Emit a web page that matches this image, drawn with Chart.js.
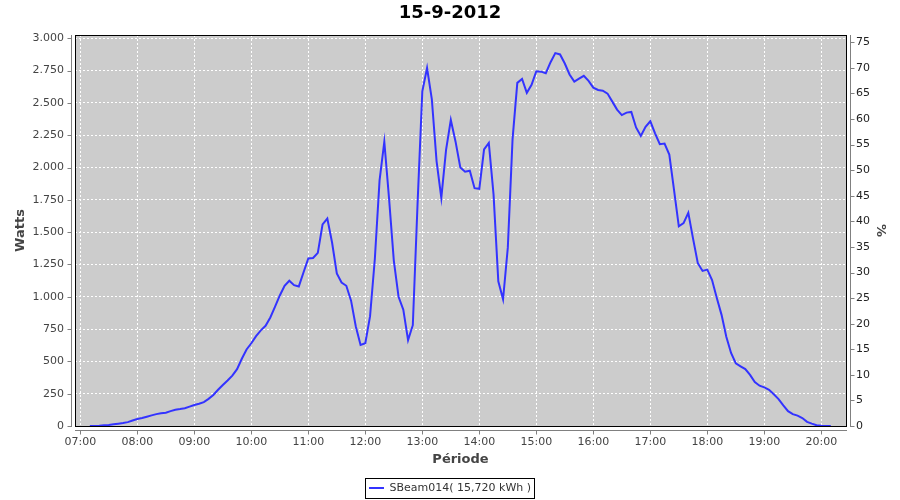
<!DOCTYPE html>
<html>
<head>
<meta charset="utf-8">
<script src="https://cdn.jsdelivr.net/npm/chart.js@4/dist/chart.umd.min.js"></script>
<style>
    html, body { margin: 0; padding: 0; background: #fff; }
    .chart-container { width: 900px; height: 500px; }
</style>
</head>
<body>
<div class="chart-container"><canvas id="powerChart"></canvas></div>
<script>
const chartTitle = '15-9-2012';
const seriesLabel = 'SBeam014( 15,720 kWh )';

// sample times, every 5 minutes
const times = [
    '07:10', '07:15', '07:20', '07:25', '07:30', '07:35', '07:40', '07:45', '07:50', '07:55',
    '08:00', '08:05', '08:10', '08:15', '08:20', '08:25', '08:30', '08:35', '08:40', '08:45', '08:50', '08:55',
    '09:00', '09:05', '09:10', '09:15', '09:20', '09:25', '09:30', '09:35', '09:40', '09:45', '09:50', '09:55',
    '10:00', '10:05', '10:10', '10:15', '10:20', '10:25', '10:30', '10:35', '10:40', '10:45', '10:50', '10:55',
    '11:00', '11:05', '11:10', '11:15', '11:20', '11:25', '11:30', '11:35', '11:40', '11:45', '11:50', '11:55',
    '12:00', '12:05', '12:10', '12:15', '12:20', '12:25', '12:30', '12:35', '12:40', '12:45', '12:50', '12:55',
    '13:00', '13:05', '13:10', '13:15', '13:20', '13:25', '13:30', '13:35', '13:40', '13:45', '13:50', '13:55',
    '14:00', '14:05', '14:10', '14:15', '14:20', '14:25', '14:30', '14:35', '14:40', '14:45', '14:50', '14:55',
    '15:00', '15:05', '15:10', '15:15', '15:20', '15:25', '15:30', '15:35', '15:40', '15:45', '15:50', '15:55',
    '16:00', '16:05', '16:10', '16:15', '16:20', '16:25', '16:30', '16:35', '16:40', '16:45', '16:50', '16:55',
    '17:00', '17:05', '17:10', '17:15', '17:20', '17:25', '17:30', '17:35', '17:40', '17:45', '17:50', '17:55',
    '18:00', '18:05', '18:10', '18:15', '18:20', '18:25', '18:30', '18:35', '18:40', '18:45', '18:50', '18:55',
    '19:00', '19:05', '19:10', '19:15', '19:20', '19:25', '19:30', '19:35', '19:40', '19:45', '19:50', '19:55',
    '20:00', '20:05', '20:10'
];

// power in watts
const watts = [
    0, 0, 2, 5, 8, 13, 18, 23, 30, 42,
    54, 62, 72, 82, 92, 98, 103, 115, 126, 131, 137, 150,
    162, 172, 185, 210, 240, 280, 317, 352, 390, 440, 520, 592,
    640, 695, 740, 775, 840, 923, 1010, 1085, 1124, 1090, 1080, 1190,
    1297, 1300, 1340, 1560, 1605, 1420, 1180, 1110, 1085, 970, 770, 627,
    640, 850, 1290, 1900, 2200, 1760, 1280, 1000, 900, 665, 780, 1720,
    2590, 2770, 2530, 2050, 1765, 2136, 2368, 2200, 2000, 1968, 1975, 1840,
    1835, 2140, 2190, 1790, 1120, 980, 1380, 2220, 2655, 2685, 2578, 2640,
    2745, 2742, 2730, 2815, 2885, 2875, 2805, 2720, 2665, 2688, 2710, 2670,
    2618, 2600, 2595, 2572, 2510, 2448, 2406, 2425, 2430, 2310, 2244, 2315,
    2358, 2265, 2180, 2185, 2100, 1826, 1545, 1570, 1650, 1450, 1260, 1200,
    1210, 1130, 990, 860, 690, 565, 485, 462, 440, 395, 340, 312,
    299, 280, 245, 208, 160, 115, 92, 80, 62, 32, 18, 6,
    2, 0, 0
];

// axis ticks
const xTickLabels = [
    '07:00', '08:00', '09:00', '10:00', '11:00', '12:00', '13:00',
    '14:00', '15:00', '16:00', '17:00', '18:00', '19:00', '20:00'
];
const wattTicks = [0, 250, 500, 750, 1000, 1250, 1500, 1750, 2000, 2250, 2500, 2750, 3000];
const wattTickLabels = ['0', '250', '500', '750', '1.000', '1.250', '1.500', '1.750',
    '2.000', '2.250', '2.500', '2.750', '3.000'];
const percentTicks = [0, 5, 10, 15, 20, 25, 30, 35, 40, 45, 50, 55, 60, 65, 70, 75];

const lineColor = '#3333ff';
const axisGray = '#808080';
const textGray = '#444444';

Chart.defaults.font.family = "'DejaVu Sans', sans-serif";
Chart.defaults.font.size = 11;
Chart.defaults.color = textGray;

// minutes after 07:00
function toMinutes(t) {
    const parts = t.split(':');
    return (parseInt(parts[0], 10) - 7) * 60 + parseInt(parts[1], 10);
}

const points = times.map((t, i) => ({ x: toMinutes(t), y: watts[i] }));
const hourTicks = xTickLabels.map(toMinutes);

// grey plot background, black outline, offset axis lines like the original
const plotFrame = {
    id: 'plotFrame',
    beforeDraw(chart) {
        const { ctx, chartArea: a } = chart;
        ctx.save();
        ctx.fillStyle = '#cccccc';
        ctx.fillRect(a.left, a.top, a.right - a.left, a.bottom - a.top);
        ctx.restore();
    },
    afterDraw(chart) {
        const { ctx, chartArea: a, scales } = chart;
        ctx.save();
        ctx.strokeStyle = '#000';
        ctx.lineWidth = 1;
        ctx.strokeRect(a.left + 0.5, a.top + 0.5, a.right - a.left, a.bottom - a.top);

        ctx.strokeStyle = axisGray;
        ctx.beginPath();
        // left axis
        const lx = a.left - 4 + 0.5;
        ctx.moveTo(lx, a.top);
        ctx.lineTo(lx, a.bottom + 1);
        scales.y.ticks.forEach(t => {
            const py = Math.round(scales.y.getPixelForValue(t.value)) + 0.5;
            ctx.moveTo(lx - 4, py);
            ctx.lineTo(lx, py);
        });
        // right axis
        const rx = a.right + 4 + 0.5;
        ctx.moveTo(rx, a.top);
        ctx.lineTo(rx, a.bottom + 1);
        scales.y2.ticks.forEach(t => {
            const py = Math.round(scales.y2.getPixelForValue(t.value)) + 0.5;
            ctx.moveTo(rx, py);
            ctx.lineTo(rx + 4, py);
        });
        // bottom axis
        const by = a.bottom + 4 + 0.5;
        ctx.moveTo(a.left, by);
        ctx.lineTo(a.right + 1, by);
        scales.x.ticks.forEach(t => {
            const px = Math.round(scales.x.getPixelForValue(t.value)) + 0.5;
            ctx.moveTo(px, by);
            ctx.lineTo(px, by + 4);
        });
        ctx.stroke();

        // legend frame
        const hb = chart.legend.legendHitBoxes[0];
        if (hb) {
            ctx.strokeStyle = '#000';
            ctx.strokeRect(Math.round(hb.left - 4) + 0.5, Math.round(hb.top - 5) + 0.5,
                Math.round(hb.width + 7), 20);
        }
        ctx.restore();
    }
};

const ctx = document.getElementById('powerChart').getContext('2d');

new Chart(ctx, {
    type: 'line',
    data: {
        datasets: [{
            label: seriesLabel,
            data: points,
            borderColor: lineColor,
            backgroundColor: lineColor,
            borderWidth: 2,
            pointRadius: 0,
            tension: 0,
            fill: false,
            yAxisID: 'y'
        }]
    },
    options: {
        responsive: true,
        maintainAspectRatio: false,
        animation: false,
        layout: { padding: { left: 0, right: 0, top: 0, bottom: -3.5 } },
        plugins: {
            title: {
                display: true,
                text: chartTitle,
                color: '#000',
                font: { size: 18, weight: 'bold' },
                padding: { top: 2.5, bottom: 10.9 }
            },
            legend: {
                position: 'bottom',
                labels: {
                    color: '#333',
                    boxWidth: 15,
                    boxHeight: 2,
                    padding: 10,
                    generateLabels: chart => Chart.defaults.plugins.legend.labels.generateLabels(chart)
                        .map(item => Object.assign(item, { lineWidth: 0, fillStyle: lineColor }))
                }
            },
            tooltip: { enabled: false }
        },
        scales: {
            x: {
                type: 'linear',
                min: -5.6,
                max: 806,
                afterFit: scale => { scale.height = 46.5; },
                afterBuildTicks: scale => { scale.ticks = hourTicks.map(v => ({ value: v })); },
                ticks: {
                    autoSkip: false,
                    maxRotation: 0,
                    padding: 2,
                    callback: (value, i) => xTickLabels[i]
                },
                grid: {
                    color: '#ffffff',
                    tickColor: 'transparent',
                    tickLength: 8
                },
                border: { display: false, dash: [2, 2] },
                title: {
                    display: true,
                    text: 'Période',
                    color: textGray,
                    font: { size: 13, weight: 'bold' },
                    padding: { top: 4.7, bottom: 4.7 }
                }
            },
            y: {
                type: 'linear',
                position: 'left',
                min: 0,
                max: 3025.5,
                afterFit: scale => { scale.width = 75; },
                afterBuildTicks: scale => { scale.ticks = wattTicks.map(v => ({ value: v })); },
                ticks: {
                    autoSkip: false,
                    padding: 3,
                    callback: (value, i) => wattTickLabels[i]
                },
                grid: {
                    color: '#ffffff',
                    tickColor: 'transparent',
                    tickLength: 8
                },
                border: { display: false, dash: [2, 2] },
                title: {
                    display: true,
                    text: 'Watts',
                    color: textGray,
                    font: { size: 13, weight: 'bold' },
                    padding: { top: 13.2, bottom: 0 }
                }
            },
            y2: {
                type: 'linear',
                position: 'right',
                display: true,
                min: 0,
                max: 76.43,
                afterFit: scale => { scale.width = 54; },
                afterBuildTicks: scale => { scale.ticks = percentTicks.map(v => ({ value: v })); },
                ticks: {
                    autoSkip: false,
                    padding: 2,
                    color: '#222',
                    callback: (value, i) => String(percentTicks[i])
                },
                grid: {
                    drawOnChartArea: false,
                    tickColor: 'transparent',
                    tickLength: 8
                },
                border: { display: false },
                title: {
                    display: true,
                    text: '%',
                    color: textGray,
                    font: { size: 13, weight: 'bold' },
                    padding: { top: 12.2, bottom: 0 }
                }
            }
        }
    },
    plugins: [plotFrame]
});
</script>
</body>
</html>
